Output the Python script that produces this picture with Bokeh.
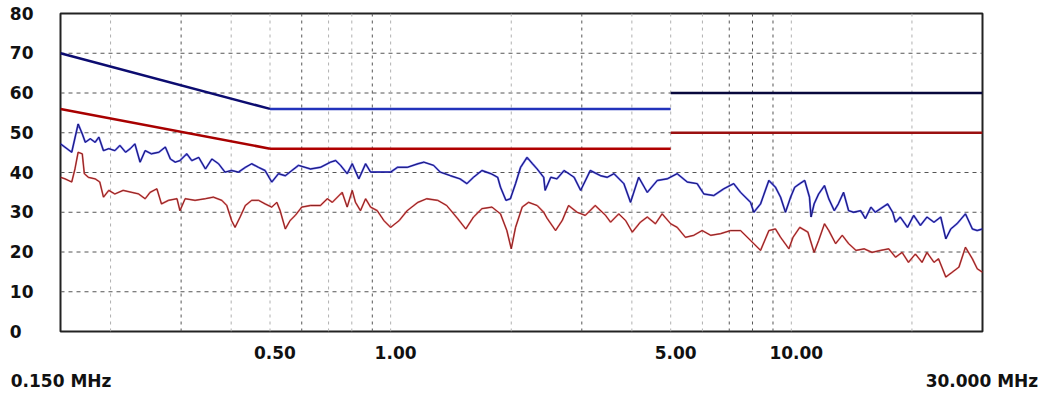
from bokeh.plotting import figure
from bokeh.models import Range1d, Span, LogAxis, FixedTicker, PrintfTickFormatter
from bokeh.embed import file_html
from bokeh.resources import INLINE

# ---- data (MHz, dBuV) ----
peak_freq = [0.150, 0.160, 0.166, 0.170, 0.173, 0.178, 0.183, 0.187, 0.192, 0.198,
             0.205, 0.211, 0.218, 0.224, 0.230, 0.237, 0.244, 0.253, 0.264, 0.274,
             0.282, 0.290, 0.298, 0.310, 0.319, 0.332, 0.345, 0.358, 0.372, 0.386,
             0.401, 0.417, 0.434, 0.450, 0.468, 0.486, 0.505, 0.525, 0.546, 0.567,
             0.589, 0.631, 0.668, 0.708, 0.729, 0.750, 0.779, 0.802, 0.833, 0.866,
             0.891, 0.944, 1.00, 1.04, 1.10, 1.17, 1.21, 1.28, 1.33, 1.41,
             1.49, 1.55, 1.61, 1.69, 1.78, 1.85, 1.88, 1.94, 1.99, 2.05,
             2.11, 2.19, 2.26, 2.32, 2.41, 2.43, 2.51, 2.60, 2.71, 2.87,
             2.98, 3.15, 3.34, 3.47, 3.61, 3.82, 3.97, 4.16, 4.37, 4.63,
             4.90, 5.19, 5.50, 5.82, 6.05, 6.40, 6.78, 7.18, 7.47, 7.91,
             8.06, 8.38, 8.79, 9.13, 9.40, 9.67, 9.96, 10.2, 10.5, 10.8,
             11.1, 11.2, 11.4, 11.7, 12.1, 12.4, 12.8, 13.1, 13.5, 13.9,
             14.3, 14.9, 15.3, 15.8, 16.2, 16.7, 17.4, 17.9, 18.2, 18.7,
             19.5, 20.2, 21.0, 21.8, 22.7, 23.6, 24.3, 25.0, 25.9, 27.2,
             28.3, 29.1, 30.0]
peak_level = [47.2, 45.1, 52.2, 49.7, 47.6, 48.5, 47.6, 48.9, 45.5, 46.0,
              45.5, 46.8, 45.1, 46.0, 47.2, 42.6, 45.5, 44.7, 45.1, 46.4,
              43.4, 42.6, 43.0, 44.7, 43.0, 43.8, 40.9, 43.4, 42.2, 40.1,
              40.5, 40.1, 41.3, 42.2, 41.3, 40.5, 37.6, 39.7, 39.2, 40.5,
              41.8, 40.9, 41.3, 42.6, 43.0, 41.8, 39.7, 42.2, 38.4, 42.2,
              40.1, 40.1, 40.1, 41.3, 41.3, 42.2, 42.6, 41.8, 40.1, 39.2,
              38.4, 37.2, 38.8, 40.5, 39.7, 38.8, 36.3, 33.0, 33.4, 37.2,
              41.3, 43.8, 42.2, 40.9, 38.8, 35.5, 38.8, 38.4, 40.5, 38.8,
              35.5, 40.5, 39.2, 38.8, 39.7, 37.2, 32.5, 38.8, 35.0, 38.0,
              38.4, 39.7, 37.6, 37.2, 34.6, 34.2, 35.9, 37.2, 35.0, 32.5,
              30.0, 32.1, 38.0, 36.3, 33.8, 30.0, 33.8, 36.3, 37.2, 38.0,
              33.8, 28.8, 32.1, 34.6, 36.7, 33.4, 30.4, 32.1, 35.0, 30.4,
              30.0, 30.4, 28.4, 31.3, 30.0, 30.9, 32.1, 30.0, 27.5, 28.8,
              26.2, 29.2, 26.7, 28.8, 27.5, 28.8, 23.3, 25.8, 27.1, 29.6,
              25.8, 25.4, 25.8]

avg_freq = [0.150, 0.154, 0.160, 0.163, 0.166, 0.170, 0.172, 0.176, 0.183, 0.188,
            0.192, 0.198, 0.205, 0.215, 0.226, 0.235, 0.244, 0.251, 0.261, 0.268,
            0.279, 0.293, 0.298, 0.307, 0.325, 0.345, 0.361, 0.379, 0.390, 0.401,
            0.409, 0.421, 0.434, 0.450, 0.468, 0.486, 0.505, 0.520, 0.530, 0.546,
            0.561, 0.578, 0.600, 0.631, 0.668, 0.695, 0.715, 0.757, 0.779, 0.802,
            0.817, 0.841, 0.866, 0.891, 0.926, 0.962, 1.00, 1.05, 1.10, 1.17,
            1.23, 1.31, 1.38, 1.47, 1.54, 1.61, 1.69, 1.79, 1.88, 1.95,
            2.00, 2.05, 2.13, 2.21, 2.32, 2.41, 2.46, 2.58, 2.68, 2.78,
            2.92, 3.06, 3.24, 3.44, 3.54, 3.71, 3.86, 4.01, 4.20, 4.37,
            4.58, 4.76, 5.00, 5.19, 5.44, 5.71, 5.99, 6.29, 6.66, 7.05,
            7.47, 7.91, 8.38, 8.79, 9.13, 9.40, 9.86, 10.1, 10.5, 11.0,
            11.4, 11.7, 12.1, 12.4, 12.9, 13.4, 13.9, 14.5, 15.2, 15.9,
            16.7, 17.5, 18.2, 18.9, 19.6, 20.4, 21.2, 21.8, 22.7, 23.3,
            24.3, 25.2, 26.2, 27.2, 28.3, 29.1, 30.0]
avg_level = [38.8, 38.4, 37.6, 40.9, 45.1, 44.7, 39.7, 38.8, 38.4, 37.6,
             33.8, 35.5, 34.6, 35.5, 35.0, 34.6, 33.4, 35.0, 35.9, 32.1,
             33.0, 33.4, 30.4, 33.4, 33.0, 33.4, 33.8, 33.0, 31.7, 27.9,
             26.2, 28.8, 31.7, 33.0, 33.0, 32.1, 31.3, 32.5, 30.4, 25.8,
             27.9, 29.2, 31.3, 31.7, 31.7, 33.4, 32.5, 35.0, 31.3, 35.5,
             32.5, 30.4, 33.4, 31.3, 30.4, 27.9, 26.2, 27.9, 30.4, 32.5,
             33.4, 33.0, 31.7, 28.4, 25.8, 28.8, 30.9, 31.3, 29.6, 25.4,
             20.8, 26.2, 31.3, 32.5, 31.7, 30.0, 28.4, 25.4, 27.9, 31.7,
             30.0, 29.2, 31.7, 29.2, 27.5, 29.6, 27.9, 25.0, 27.5, 28.8,
             27.1, 29.6, 27.1, 26.2, 23.7, 24.2, 25.4, 24.2, 24.6, 25.4,
             25.4, 22.9, 20.4, 25.4, 25.8, 23.7, 20.8, 23.7, 26.2, 25.0,
             19.9, 22.9, 27.1, 25.4, 22.1, 24.2, 22.1, 20.4, 20.8, 19.9,
             20.4, 20.8, 18.7, 19.9, 17.4, 19.5, 17.4, 19.9, 17.4, 18.3,
             13.7, 14.9, 16.2, 21.2, 18.3, 15.8, 14.9]

# limit lines (EN 55022 class B style)
band_low = [0.15, 0.5]
band_mid = [0.5, 5.0]
band_high = [5.0, 30.0]
qp_low = [70, 56]
qp_mid = [56, 56]
qp_high = [60, 60]
av_low = [56, 46]
av_mid = [46, 46]
av_high = [50, 50]

y_ticks = [0, 10, 20, 30, 40, 50, 60, 70, 80]
x_tick_vals = [0.5, 1.0, 5.0, 10.0]
x_edge_vals = [0.15, 30.0]
x_edge_labels = ["0.150 MHz", "30.000 MHz"]
grid_dark = [0.3, 0.6, 0.9, 3, 7, 8, 9]
grid_light = [0.2, 0.4, 0.5, 0.7, 0.8, 1, 2, 4, 5, 6, 10, 20]

FONT = "DejaVu Sans"

p = figure(width=1046, height=394, x_axis_type="log",
           x_range=Range1d(0.15, 30), y_range=Range1d(0, 80),
           output_backend="svg", toolbar_location=None,
           min_border_left=60, min_border_right=64,
           min_border_top=13, min_border_bottom=63)
# label-only ranges: slightly shifted so tick labels sit where the original puts them
p.extra_x_ranges = {"lab": Range1d(0.1458, 29.15), "edge": Range1d(0.1495, 30.1)}
p.xgrid.visible = False
p.ygrid.visible = False
p.outline_line_color = "#222222"
p.outline_line_width = 2
p.background_fill_color = "white"
p.border_fill_color = "white"


def style_axis(ax, standoff):
    ax.axis_line_color = None
    ax.major_tick_line_color = None
    ax.minor_tick_line_color = None
    ax.major_tick_out = 0
    ax.major_tick_in = 0
    ax.minor_tick_out = 0
    ax.minor_tick_in = 0
    ax.major_label_standoff = standoff
    ax.major_label_text_font = FONT
    ax.major_label_text_font_style = "bold"
    ax.major_label_text_font_size = "17px"
    ax.major_label_text_color = "#111111"


yax = p.yaxis[0]
yax.ticker = FixedTicker(ticks=y_ticks)
yax.formatter = PrintfTickFormatter(format="%d")
yax.major_label_overrides = {0: "0\u2007"}
style_axis(yax, 27)

p.xaxis[0].visible = False
xax = LogAxis(x_range_name="lab", ticker=FixedTicker(ticks=x_tick_vals),
              formatter=PrintfTickFormatter(format="%.2f"))
style_axis(xax, 14)
p.add_layout(xax, "below")

edge_ax = LogAxis(x_range_name="edge", ticker=FixedTicker(ticks=x_edge_vals),
                  major_label_overrides=dict(zip(x_edge_vals, x_edge_labels)))
style_axis(edge_ax, 9)
p.add_layout(edge_ax, "below")

for v in y_ticks[1:-1]:
    p.add_layout(Span(location=v, dimension="width", line_color="#555555",
                      line_width=1, line_dash="4 4", level="underlay"))
for f in grid_light:
    p.add_layout(Span(location=f, dimension="height", line_color="#b0b0b0",
                      line_width=1, line_dash="3 4", level="underlay"))
for f in grid_dark:
    p.add_layout(Span(location=f, dimension="height", line_color="#555555",
                      line_width=1, line_dash="3 4", level="underlay"))

# limit lines
p.line(band_low, qp_low, line_color="#0c0c70", line_width=2.5)
p.line(band_mid, qp_mid, line_color="#2233bb", line_width=2.5)
p.line(band_high, qp_high, line_color="#08083c", line_width=2.5)
p.line(band_low, av_low, line_color="#a80000", line_width=2.5)
p.line(band_mid, av_mid, line_color="#b00000", line_width=2.5)
p.line(band_high, av_high, line_color="#9a1010", line_width=2.5)

# measured traces
p.line(peak_freq, peak_level, line_color="#3a3ae6", line_width=2.0, line_alpha=0.8)
p.line(peak_freq, peak_level, line_color="#101060", line_width=0.9)
p.line(avg_freq, avg_level, line_color="#e04848", line_width=1.8, line_alpha=0.8)
p.line(avg_freq, avg_level, line_color="#701010", line_width=0.8)

open("out.html", "w").write(file_html(p, INLINE))
